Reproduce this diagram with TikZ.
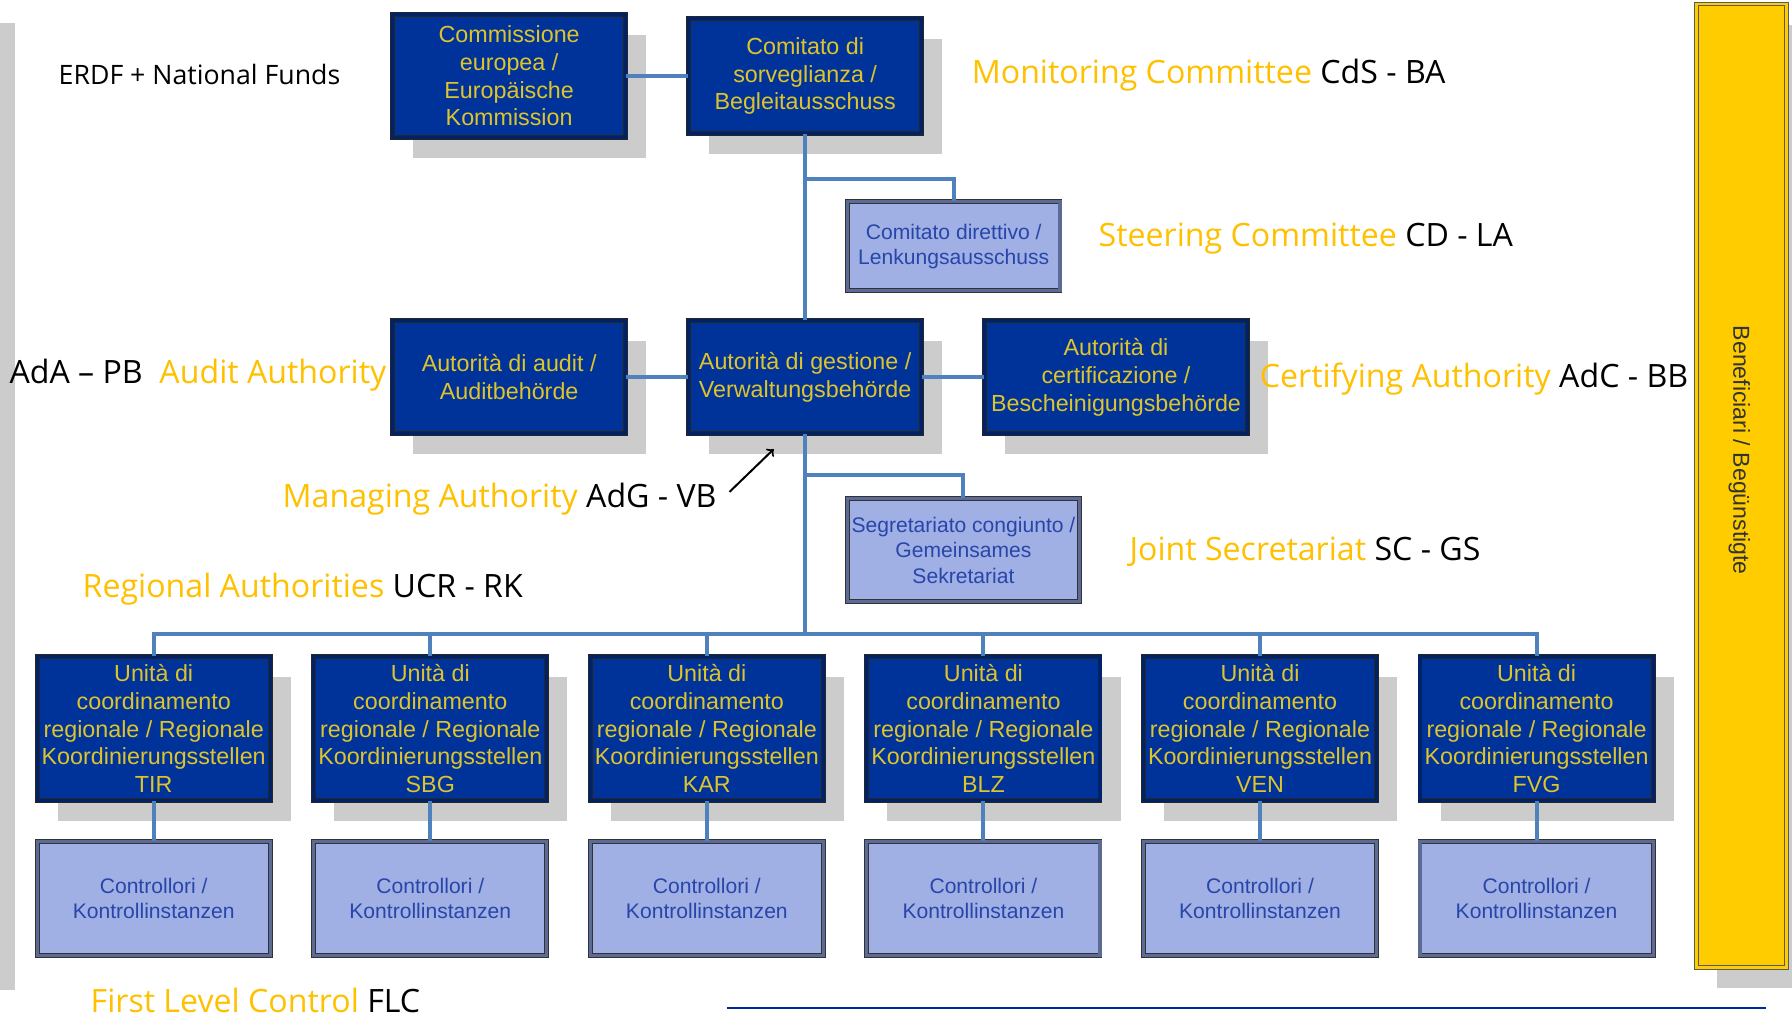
\documentclass[tikz,border=0pt]{standalone}
\usepackage{fontspec}
\setmainfont{Open Sans}
\newfontfamily\boxfont{Liberation Sans}
\usepackage{tikz}
\usetikzlibrary{positioning,shadows}
\definecolor{darkfill}{RGB}{0,51,153}
\definecolor{darkband}{RGB}{0,34,104}
\definecolor{darktext}{RGB}{222,196,44}
\definecolor{lightfill}{RGB}{160,175,228}
\definecolor{lightband}{RGB}{92,106,150}
\definecolor{lighttext}{RGB}{40,70,170}
\definecolor{linkblue}{RGB}{79,129,189}
\definecolor{labelyellow}{RGB}{255,192,0}
\definecolor{shadowgrey}{RGB}{204,204,204}
\definecolor{barfill}{RGB}{255,204,0}
\definecolor{rulerblue}{RGB}{0,40,150}
\tikzset{
    %Define standard arrow tip
    >=to,
    %Define style for boxes
    authority/.style={
           rectangle,
           draw=black!85, line width=0.4pt,
           double=darkband, double distance=1.6pt,
           fill=darkfill,
           minimum width=4.08cm,
           minimum height=1.98cm,
           inner sep=0pt,
           font=\boxfont\fontsize{11.6}{13.8}\selectfont,
           text=darktext,
           align=center,
           drop shadow={shadow xshift=0.36cm, shadow yshift=-0.36cm,
                        fill=shadowgrey, opacity=1},
           },
    office/.style={
           rectangle,
           draw=black!80, line width=0.4pt,
           double=lightband, double distance=1.6pt,
           fill=lightfill,
           minimum width=4.08cm,
           minimum height=2cm,
           inner sep=0pt,
           font=\boxfont\fontsize{10.5}{12.6}\selectfont,
           text=lighttext,
           align=center,
           },
    beneficiary/.style={
           rectangle,
           draw=black!65, line width=0.5pt,
           double=barfill, double distance=1.4pt,
           fill=barfill,
           minimum width=1.58cm,
           minimum height=16.86cm,
           inner sep=0pt,
           drop shadow={shadow xshift=0.36cm, shadow yshift=-0.36cm,
                        fill=shadowgrey, opacity=1},
           },
    tag/.style={
           anchor=mid west,
           inner sep=0pt,
           font=\fontsize{16}{19}\selectfont,
           },
    % Define connector style
    link/.style={
           draw=linkblue,
           line width=2pt,},
    pointer/.style={
           ->,
           line width=1pt,}
}
\begin{document}
\begin{tikzpicture}[x=0.02cm,y=-0.02cm,dk/.style={authority},lt/.style={office}]
\useasboundingbox (0,0) rectangle (1568,891.6);
\fill[shadowgrey] (0,20) rectangle (13,866);
\node[dk, minimum height=2.16cm](ec) at (445.5,66.5){Commissione\\europea /\\Europäische\\Kommission};
\node[dk, minimum height=2cm](cds) at (704.5,66.5){Comitato di\\sorveglianza /\\Begleitausschuss};
\node[lt, minimum width=3.72cm, minimum height=1.56cm](cd) at (834.5,215.5){Comitato direttivo /\\Lenkungsausschuss};
\node[dk](ada) at (445.5,330){Autorità di audit /\\Auditbehörde};
\node[dk](adg) at (704.5,330){Autorità di gestione /\\Verwaltungsbehörde};
\node[dk, minimum width=4.6cm](adc) at (976.5,330){Autorità di\\certificazione /\\Bescheinigungsbehörde};
\node[lt, minimum width=4.06cm, minimum height=1.8cm](js) at (843,481.5){Segretariato congiunto /\\Gemeinsames\\Sekretariat};
\node[beneficiary](ben) at (1524,425){};
\node[rotate=-90, font=\boxfont\fontsize{11.5}{13}\selectfont, text=black!80](bentxt) at (1522,394){Beneficiari / Begünstigte};
\coordinate (bus) at (704.5,555);
\path[link]
	(ec) edge (cds)
	(cds) edge (adg)
	(ada) edge (adg)
	(adg) edge (adc);
\draw[link] (cds.south |- 0,157) -| (cd.north);
\draw[link] (adg.south |- 0,416) -| (js.north);
\draw[link] (adg.south) -- (bus);
\foreach \reg [count=\i] in {TIR,SBG,KAR,BLZ,VEN,FVG}{
  \node[dk, minimum height=2.52cm](r\i) at (134.5+242*\i-242,637.5){Unità di\\coordinamento\\regionale / Regionale\\Koordinierungsstellen\\\reg};
  \node[lt, below=0.7cm of r\i](k\i){Controllori /\\Kontrollinstanzen};
  \draw[link] (bus) -| (r\i.north);
  \draw[link] (r\i) -- (k\i);
}
% labels
\node[tag, font=\fontsize{13.3}{16}\selectfont](erdf) at (51,69){ERDF + National Funds};
\node[tag](mon) at (850,68){{\color{labelyellow}Monitoring Committee} CdS - BA};
\node[tag](steer) at (961,211){{\color{labelyellow}Steering Committee} CD - LA};
\node[tag](audit) at (8,331){AdA – PB\ \ {\color{labelyellow}Audit Authority}};
\node[tag](cert) at (1102,334){{\color{labelyellow}Certifying Authority} AdC - BB};
\node[tag](manag) at (247,439){{\color{labelyellow}Managing Authority} AdG - VB};
\node[tag](joint) at (988,486){{\color{labelyellow}Joint Secretariat} SC - GS};
\node[tag](regio) at (72,518){{\color{labelyellow}Regional Authorities} UCR - RK};
\node[tag](first) at (79,881){{\color{labelyellow}First Level Control} FLC};
\coordinate (adg-tip) at (677,393);
\draw[pointer] ([xshift=0.22cm,yshift=0.12cm]manag.east) -- (adg-tip);
\draw[rulerblue, line width=1pt] (636,882) -- (1545,882);
\end{tikzpicture}
\end{document}
